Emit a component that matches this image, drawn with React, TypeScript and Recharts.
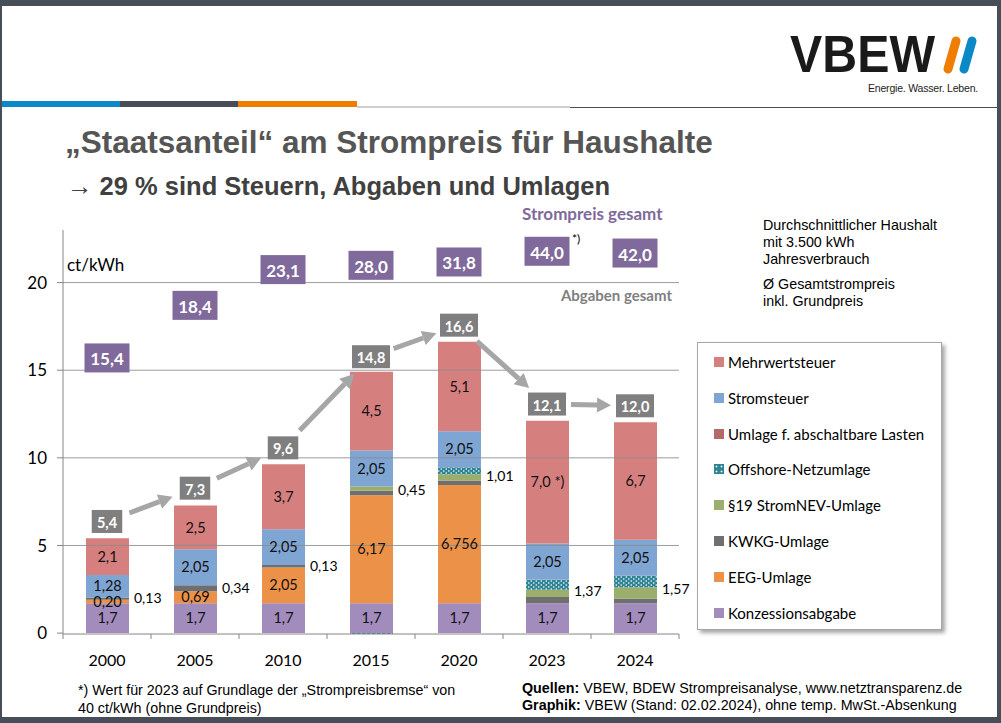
import React from 'react';
import { ComposedChart, Bar, Line, XAxis, YAxis, ReferenceLine, LabelList } from 'recharts';

// ct/kWh, Haushalt 3.500 kWh
const years = ['2000', '2005', '2010', '2015', '2020', '2023', '2024'];
const konzession = [1.7, 1.7, 1.7, 1.7, 1.7, 1.7, 1.7];
const eeg = [0.2, 0.69, 2.05, 6.17, 6.756, 0, 0];
const kwkg = [0.13, 0.34, 0.13, 0.254, 0.254, 0.357, 0.275];
const stromNev = [0, 0, 0, 0.237, 0.358, 0.417, 0.643];
const offshore = [0, 0, 0, -0.051, 0.395, 0.591, 0.656];
const abschaltbar = [0, 0, 0, 0.006, 0.007, 0, 0];
const stromsteuer = [1.28, 2.05, 2.05, 2.05, 2.05, 2.05, 2.05];
const mwst = [2.1, 2.5, 3.7, 4.5, 5.1, 7.0, 6.7];
const abgabenGesamt = [5.4, 7.3, 9.6, 14.8, 16.6, 12.1, 12.0];
const strompreisGesamt = [15.4, 18.4, 23.1, 28.0, 31.8, 44.0, 42.0];

const konzLabels = ['1,7', '1,7', '1,7', '1,7', '1,7', '1,7', '1,7'];
const eegLabels = ['0,20', '0,69', '2,05', '6,17', '6,756', '', ''];
const umlagenLabels = ['0,13', '0,34', '0,13', '0,45', '1,01', '1,37', '1,57'];
const steuerLabels = ['1,28', '2,05', '2,05', '2,05', '2,05', '2,05', '2,05'];
const mwstLabels = ['2,1', '2,5', '3,7', '4,5', '5,1', '7,0 *)', '6,7'];
const yTicks = [0, 5, 10, 15, 20];

const series = [
  { key: 'mwst', name: 'Mehrwertsteuer', color: '#d67f7f' },
  { key: 'stromsteuer', name: 'Stromsteuer', color: '#7fa5d2' },
  { key: 'abschaltbar', name: 'Umlage f. abschaltbare Lasten', color: '#b46a6a' },
  { key: 'offshore', name: 'Offshore-Netzumlage', color: '#2f8496' },
  { key: 'stromNev', name: '§19 StromNEV-Umlage', color: '#9bae6c' },
  { key: 'kwkg', name: 'KWKG-Umlage', color: '#6f6f6f' },
  { key: 'eeg', name: 'EEG-Umlage', color: '#ec9148' },
  { key: 'konzession', name: 'Konzessionsabgabe', color: '#a28cbc' },
];
const colorOf = (k: string) => series.find((s) => s.key === k)!.color;

const fmt = (v: number) => v.toFixed(1).replace('.', ',');

// boxes above 20 ct are squeezed into the top strip of the plot
const pricePos = (v: number) => (v <= 20 ? v + 0.3 : 20.74 + (v - 23.1) * 0.05);

const data = years.map((year, i) => ({
  year,
  konzession: konzession[i],
  eeg: eeg[i],
  kwkg: kwkg[i],
  stromNev: stromNev[i],
  offshore: offshore[i],
  abschaltbar: abschaltbar[i],
  stromsteuer: stromsteuer[i],
  mwst: mwst[i],
  abgaben: abgabenGesamt[i],
  preis: strompreisGesamt[i],
  preisPos: pricePos(strompreisGesamt[i]),
  konzLabel: konzLabels[i],
  eegLabel: eegLabels[i],
  steuerLabel: steuerLabels[i],
  mwstLabel: mwstLabels[i],
  umlagen: kwkg[i] + stromNev[i] + Math.max(offshore[i], 0) + abschaltbar[i],
}));

const GRAY = '#a6a6a6';
const AXIS = '#868686';
const chartFont = 'Lato, "Open Sans", sans-serif';
const TICK_SIZE = 6;
const TICK_MARGIN = 15;

const YearTick = (props: any) => {
  const { x, y, payload, index, visibleTicksCount, width } = props;
  const n = visibleTicksCount || years.length;
  const band = (width || 616) / n;
  const axisY = y - TICK_SIZE - TICK_MARGIN;
  return (
    <g>
      <line x1={x - band / 2} x2={x - band / 2} y1={axisY} y2={axisY + 5} stroke={AXIS} />
      {index === n - 1 && <line x1={x + band / 2} x2={x + band / 2} y1={axisY} y2={axisY + 5} stroke={AXIS} />}
      <text x={x} y={y} dy="0.71em" textAnchor="middle" fontSize={16} fill="#000" fontFamily={chartFont}>
        {payload.value}
      </text>
    </g>
  );
};

const TotalDot = (props: any) => {
  const { cx, cy, index, payload, points } = props;
  if (cx == null || cy == null) return null;
  const bx = cx;
  const by = cy - 17;
  const text = fmt(payload.abgaben);
  const w = 8 + 7.5 * text.length;
  const h = 23;
  let arrow = null;
  const next = points ? points[index + 1] : null;
  if (next) {
    const nx = next.x;
    const ny = next.y - 17;
    const dx = nx - bx;
    const dy = ny - by;
    const len = Math.hypot(dx, dy);
    const ux = dx / len;
    const uy = dy / len;
    const sx = bx + ux * 24;
    const sy = by + uy * 24;
    const ex = nx - ux * 24;
    const ey = ny - uy * 24;
    const head = 14;
    const hw = 7.5;
    const hx = ex - ux * head;
    const hy = ey - uy * head;
    arrow = (
      <g>
        <line x1={sx} y1={sy} x2={hx} y2={hy} stroke={GRAY} strokeWidth={5} />
        <polygon
          points={`${ex},${ey} ${hx - uy * hw},${hy + ux * hw} ${hx + uy * hw},${hy - ux * hw}`}
          fill={GRAY}
        />
      </g>
    );
  }
  return (
    <g key={`tot-${index}`}>
      {arrow}
      <rect x={bx - w / 2} y={by - h / 2} width={w} height={h} fill="#7f7f7f" />
      <text x={bx} y={by + 1} textAnchor="middle" dominantBaseline="central" fill="#fff" fontSize={14.5} fontWeight={700} fontFamily={chartFont}>
        {text}
      </text>
    </g>
  );
};

const PriceDot = (props: any) => {
  const { cx, cy, index, payload } = props;
  if (cx == null || cy == null) return null;
  return (
    <g key={`price-${index}`}>
      <rect x={cx - 22.5} y={cy - 14.5} width={45} height={29} fill="#80699b" />
      <text x={cx} y={cy + 1} textAnchor="middle" dominantBaseline="central" fill="#fff" fontSize={17} fontWeight={700} fontFamily={chartFont}>
        {fmt(payload.preis)}
      </text>
      {payload.year === '2023' && (
        <text x={cx + 25} y={cy - 8} fontSize={12} fill="#000" fontFamily={chartFont}>
          *)
        </text>
      )}
    </g>
  );
};

const UmlagenLabel = (props: any) => {
  const vb = props.viewBox || props;
  const { x, y, width, height } = vb;
  const i = props.index;
  const v = kwkg[i];
  if (x == null || !height || !v) return null;
  const ppu = height / v;
  const bottom = y + height;
  const mid = bottom - (data[i].umlagen * ppu) / 2;
  return (
    <text x={x + width + 5} y={mid - 1} dominantBaseline="central" fontSize={14} fill="#000" fontFamily={chartFont}>
      {umlagenLabels[i]}
    </text>
  );
};

const segLabel = { fontSize: 14.5, fill: '#111', fontFamily: chartFont };

const App: React.FC = () => {
  return (
    <div
      style={{
        position: 'absolute',
        left: 0,
        top: 0,
        width: 1001,
        height: 723,
        background: '#fff',
        overflow: 'hidden',
        fontFamily: '"Liberation Sans", Arial, sans-serif',
      }}
    >
      {/* frame */}
      <div style={{ position: 'absolute', left: 0, top: 0, width: 1001, height: 6, background: '#474e57' }} />
      <div style={{ position: 'absolute', left: 0, top: 0, width: 2, height: 723, background: '#474e57' }} />
      <div style={{ position: 'absolute', right: 0, top: 0, width: 4, height: 723, background: '#474e57' }} />
      <div style={{ position: 'absolute', left: 0, bottom: 0, width: 1001, height: 6, background: '#474e57' }} />

      {/* header stripes */}
      <div style={{ position: 'absolute', left: 2, top: 101, width: 118, height: 6, background: '#0b89c6' }} />
      <div style={{ position: 'absolute', left: 120, top: 101, width: 118, height: 6, background: '#474e57' }} />
      <div style={{ position: 'absolute', left: 238, top: 101, width: 119, height: 6, background: '#ef7d00' }} />
      <div style={{ position: 'absolute', left: 357, top: 106, width: 213, height: 2, background: '#cfcfcf' }} />
      <div style={{ position: 'absolute', left: 570, top: 107, width: 428, height: 1, background: '#474e57' }} />

      {/* logo */}
      <svg style={{ position: 'absolute', left: 780, top: 25 }} width={210} height={75}>
        <text x={10} y={47} fontSize={51} fontWeight={700} fill="#1a1a1a" textLength={145} lengthAdjust="spacingAndGlyphs" fontFamily='"Liberation Sans", Arial, sans-serif'>
          VBEW
        </text>
        <line x1={168} y1={44} x2={176} y2={16} stroke="#ef7d00" strokeWidth={9} strokeLinecap="round" />
        <line x1={184} y1={44} x2={192} y2={16} stroke="#0b89c6" strokeWidth={9} strokeLinecap="round" />
        <text x={198} y={67} fontSize={10.5} fill="#222" textAnchor="end" letterSpacing={-0.2} fontFamily='"Liberation Sans", Arial, sans-serif'>
          Energie. Wasser. Leben.
        </text>
      </svg>

      {/* titles */}
      <div style={{ position: 'absolute', left: 65, top: 124, fontSize: 31.5, fontWeight: 700, color: '#555', whiteSpace: 'nowrap' }}>
        „Staatsanteil“ am Strompreis für Haushalte
      </div>
      <div style={{ position: 'absolute', left: 67, top: 172, fontSize: 25.5, fontWeight: 700, color: '#404040', whiteSpace: 'nowrap' }}>
        → 29 % sind Steuern, Abgaben und Umlagen
      </div>

      <ComposedChart
        width={1001}
        height={723}
        data={data}
        stackOffset="sign"
        margin={{ top: 230, right: 322, bottom: 59, left: 18 }}
        style={{ position: 'absolute', left: 0, top: 0 }}
      >
        <defs>
          <pattern id="offshoreDots" width={5} height={4} patternUnits="userSpaceOnUse">
            <rect width={5} height={4} fill={colorOf('offshore')} />
            <circle cx={1.25} cy={1} r={0.8} fill="#fff" />
            <circle cx={3.75} cy={3} r={0.8} fill="#fff" />
          </pattern>
        </defs>
        <XAxis
          dataKey="year"
          interval={0}
          tickLine={false}
          axisLine={{ stroke: AXIS }}
          tick={YearTick}
          tickSize={TICK_SIZE}
          tickMargin={TICK_MARGIN}
          height={30}
        />
        <YAxis
          domain={[0, 23]}
          ticks={yTicks}
          width={45}
          axisLine={{ stroke: AXIS }}
          tickLine={{ stroke: AXIS }}
          tickSize={6}
          tickMargin={10}
          tick={{ fontSize: 17, fill: '#000', fontFamily: chartFont }}
        />
        <Bar dataKey="konzession" stackId="a" fill={colorOf('konzession')} barSize={43} isAnimationActive={false}>
          <LabelList dataKey="konzLabel" position="center" style={segLabel} />
        </Bar>
        <Bar dataKey="eeg" stackId="a" fill={colorOf('eeg')} barSize={43} isAnimationActive={false}>
          <LabelList dataKey="eegLabel" position="center" style={segLabel} />
        </Bar>
        <Bar dataKey="kwkg" stackId="a" fill={colorOf('kwkg')} barSize={43} isAnimationActive={false}>
          <LabelList dataKey="kwkg" content={UmlagenLabel} />
        </Bar>
        <Bar dataKey="stromNev" stackId="a" fill={colorOf('stromNev')} barSize={43} isAnimationActive={false} />
        <Bar dataKey="offshore" stackId="a" fill="url(#offshoreDots)" barSize={43} isAnimationActive={false} />
        <Bar dataKey="abschaltbar" stackId="a" fill={colorOf('abschaltbar')} barSize={43} isAnimationActive={false} />
        <Bar dataKey="stromsteuer" stackId="a" fill={colorOf('stromsteuer')} barSize={43} isAnimationActive={false}>
          <LabelList dataKey="steuerLabel" position="center" style={segLabel} />
        </Bar>
        <Bar dataKey="mwst" stackId="a" fill={colorOf('mwst')} barSize={43} isAnimationActive={false}>
          <LabelList dataKey="mwstLabel" position="center" style={segLabel} />
        </Bar>
        {yTicks.slice(1).map((t) => (
          <ReferenceLine key={t} y={t} stroke="#8c8c8c" strokeOpacity={0.85} />
        ))}
        <Line dataKey="abgaben" stroke="none" dot={TotalDot} activeDot={false} legendType="none" isAnimationActive={false} />
        <Line dataKey="preisPos" stroke="none" dot={PriceDot} activeDot={false} legendType="none" isAnimationActive={false} />
      </ComposedChart>

      {/* chart annotations */}
      <div style={{ position: 'absolute', left: 67, top: 254, fontSize: 17, fontFamily: chartFont, color: '#000' }}>ct/kWh</div>
      <div style={{ position: 'absolute', left: 522, top: 203, fontSize: 17, fontWeight: 700, fontFamily: chartFont, color: '#80699b' }}>
        Strompreis gesamt
      </div>
      <div style={{ position: 'absolute', right: 1001 - 672, top: 286, fontSize: 15, fontWeight: 700, fontFamily: chartFont, color: '#7f7f7f' }}>
        Abgaben gesamt
      </div>

      <div style={{ position: 'absolute', left: 763, top: 217, fontSize: 14.3, lineHeight: '17px', color: '#000', whiteSpace: 'nowrap' }}>
        <div>Durchschnittlicher Haushalt</div>
        <div>mit 3.500 kWh</div>
        <div>Jahresverbrauch</div>
        <div style={{ marginTop: 8 }}>Ø Gesamtstrompreis</div>
        <div>inkl. Grundpreis</div>
      </div>

      {/* legend */}
      <div
        style={{
          position: 'absolute',
          left: 697,
          top: 342,
          width: 245,
          height: 288,
          border: '1px solid #a6a6a6',
          boxShadow: '3px 3px 4px rgba(0,0,0,0.35)',
          background: '#fff',
          boxSizing: 'border-box',
          fontFamily: chartFont,
        }}
      >
        {series.map((s, i) => (
          <div key={s.key} style={{ position: 'absolute', left: 16, top: 9 + i * 35.8, height: 20, display: 'flex', alignItems: 'center', fontSize: 15, color: '#000', whiteSpace: 'nowrap' }}>
            <span
              style={{
                display: 'inline-block',
                width: 10,
                height: 10,
                marginRight: 4,
                background: s.key === 'offshore' ? `radial-gradient(circle, #fff 25%, ${s.color} 30%) 0 0 / 5px 5px` : s.color,
              }}
            />
            {s.name}
          </div>
        ))}
      </div>

      {/* footer */}
      <div style={{ position: 'absolute', left: 78, top: 681, fontSize: 14.3, lineHeight: '18px', color: '#000', whiteSpace: 'nowrap' }}>
        <div>*) Wert für 2023 auf Grundlage der „Strompreisbremse“ von</div>
        <div>40 ct/kWh (ohne Grundpreis)</div>
      </div>
      <div style={{ position: 'absolute', left: 522, top: 680, fontSize: 14.3, lineHeight: '17px', color: '#000', whiteSpace: 'nowrap' }}>
        <div>
          <b>Quellen:</b> VBEW, BDEW Strompreisanalyse, www.netztransparenz.de
        </div>
        <div>
          <b>Graphik:</b> VBEW (Stand: 02.02.2024), ohne temp. MwSt.-Absenkung
        </div>
      </div>
    </div>
  );
};

export default App;
